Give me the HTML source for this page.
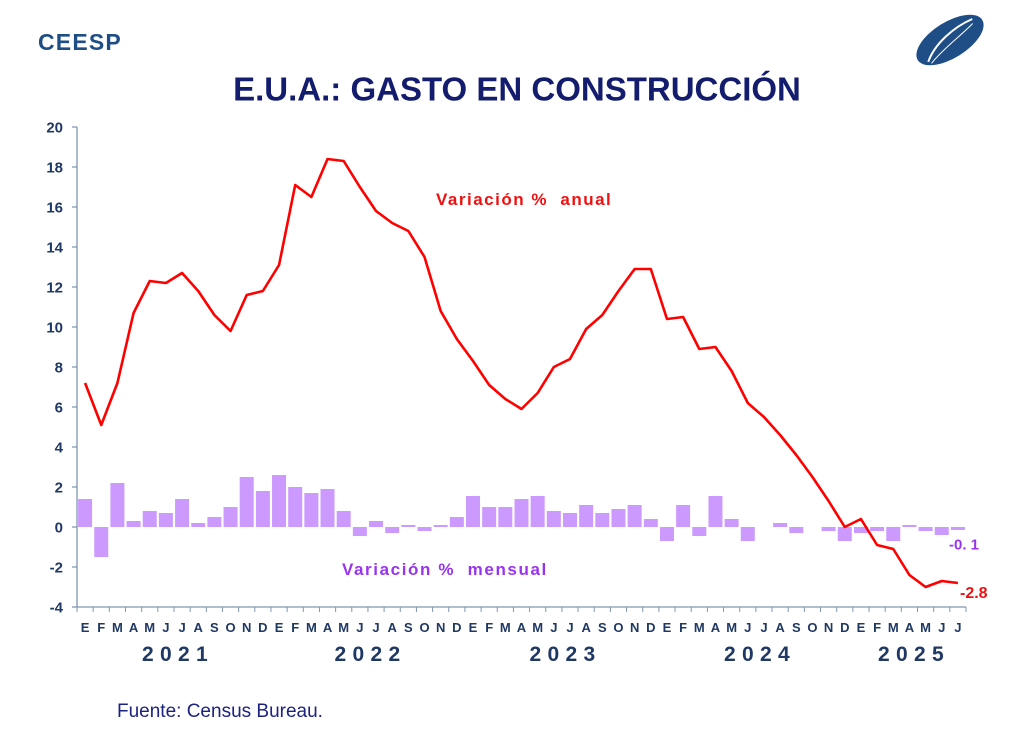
<!DOCTYPE html>
<html>
<head>
<meta charset="utf-8">
<style>
  html,body{margin:0;padding:0;background:#fff;}
  svg{display:block;}
  text{font-family:"Liberation Sans",Arial,sans-serif;}
</style>
</head>
<body>
<svg width="1024" height="730" viewBox="0 0 1024 730" xmlns="http://www.w3.org/2000/svg">
  <rect width="1024" height="730" fill="#fff"/>

  <text x="38" y="50" font-size="23" font-weight="bold" fill="#1f4e87" letter-spacing="1.2">CEESP</text>

  <g transform="translate(950,40) rotate(-32)">
    <ellipse cx="0" cy="0" rx="38" ry="18" fill="#1f4e87"/>
    <path d="M-30 7 C -15 -5, 10 -9, 30 -6" stroke="#fff" stroke-width="2" fill="none"/>
    <path d="M-28 10 C -12 4, 12 2, 28 -2" stroke="#fff" stroke-width="1" fill="none"/>
  </g>

  <text x="517" y="100.5" font-size="33" font-weight="bold" fill="#141c6e" text-anchor="middle">E.U.A.: GASTO EN CONSTRUCCIÓN</text>

  <g fill="#cc99ff">
    <rect x="78.08" y="499" width="14" height="28"/>
    <rect x="94.25" y="527" width="14" height="30"/>
    <rect x="110.41" y="483" width="14" height="44"/>
    <rect x="126.57" y="521" width="14" height="6"/>
    <rect x="142.73" y="511" width="14" height="16"/>
    <rect x="158.90" y="513" width="14" height="14"/>
    <rect x="175.06" y="499" width="14" height="28"/>
    <rect x="191.23" y="523" width="14" height="4"/>
    <rect x="207.39" y="517" width="14" height="10"/>
    <rect x="223.55" y="507" width="14" height="20"/>
    <rect x="239.72" y="477" width="14" height="50"/>
    <rect x="255.88" y="491" width="14" height="36"/>
    <rect x="272.04" y="475" width="14" height="52"/>
    <rect x="288.21" y="487" width="14" height="40"/>
    <rect x="304.37" y="493" width="14" height="34"/>
    <rect x="320.53" y="489" width="14" height="38"/>
    <rect x="336.70" y="511" width="14" height="16"/>
    <rect x="352.86" y="527" width="14" height="9"/>
    <rect x="369.03" y="521" width="14" height="6"/>
    <rect x="385.19" y="527" width="14" height="6"/>
    <rect x="401.35" y="525" width="14" height="2"/>
    <rect x="417.52" y="527" width="14" height="4"/>
    <rect x="433.68" y="525" width="14" height="2"/>
    <rect x="449.84" y="517" width="14" height="10"/>
    <rect x="466.01" y="496" width="14" height="31"/>
    <rect x="482.17" y="507" width="14" height="20"/>
    <rect x="498.33" y="507" width="14" height="20"/>
    <rect x="514.50" y="499" width="14" height="28"/>
    <rect x="530.66" y="496" width="14" height="31"/>
    <rect x="546.82" y="511" width="14" height="16"/>
    <rect x="562.99" y="513" width="14" height="14"/>
    <rect x="579.15" y="505" width="14" height="22"/>
    <rect x="595.32" y="513" width="14" height="14"/>
    <rect x="611.48" y="509" width="14" height="18"/>
    <rect x="627.64" y="505" width="14" height="22"/>
    <rect x="643.81" y="519" width="14" height="8"/>
    <rect x="659.97" y="527" width="14" height="14"/>
    <rect x="676.13" y="505" width="14" height="22"/>
    <rect x="692.30" y="527" width="14" height="9"/>
    <rect x="708.46" y="496" width="14" height="31"/>
    <rect x="724.62" y="519" width="14" height="8"/>
    <rect x="740.79" y="527" width="14" height="14"/>
    <rect x="773.12" y="523" width="14" height="4"/>
    <rect x="789.28" y="527" width="14" height="6"/>
    <rect x="821.61" y="527" width="14" height="4"/>
    <rect x="837.77" y="527" width="14" height="14"/>
    <rect x="853.93" y="527" width="14" height="6"/>
    <rect x="870.10" y="527" width="14" height="4"/>
    <rect x="886.26" y="527" width="14" height="14"/>
    <rect x="902.42" y="525" width="14" height="2"/>
    <rect x="918.59" y="527" width="14" height="4"/>
    <rect x="934.75" y="527" width="14" height="8"/>
    <rect x="950.91" y="527" width="14" height="3"/>
  </g>

  <g stroke="#7f96b2" stroke-width="1.3" fill="none">
    <line x1="77" y1="127" x2="77" y2="607"/>
    <line x1="77" y1="607" x2="966" y2="607"/>
    <path d="M72 127h5M72 167h5M72 207h5M72 247h5M72 287h5M72 327h5M72 367h5M72 407h5M72 447h5M72 487h5M72 527h5M72 567h5M72 607h5"/>
  </g>
  <g stroke="#7f96b2" stroke-width="1">
    <path d="M77 607v5M93.16 607v5M109.33 607v5M125.49 607v5M141.65 607v5M157.82 607v5M173.98 607v5M190.15 607v5M206.31 607v5M222.47 607v5M238.64 607v5M254.80 607v5M270.96 607v5M287.13 607v5M303.29 607v5M319.45 607v5M335.62 607v5M351.78 607v5M367.95 607v5M384.11 607v5M400.27 607v5M416.44 607v5M432.60 607v5M448.76 607v5M464.93 607v5M481.09 607v5M497.25 607v5M513.42 607v5M529.58 607v5M545.75 607v5M561.91 607v5M578.07 607v5M594.24 607v5M610.40 607v5M626.56 607v5M642.73 607v5M658.89 607v5M675.05 607v5M691.22 607v5M707.38 607v5M723.55 607v5M739.71 607v5M755.87 607v5M772.04 607v5M788.20 607v5M804.36 607v5M820.53 607v5M836.69 607v5M852.85 607v5M869.02 607v5M885.18 607v5M901.35 607v5M917.51 607v5M933.67 607v5M949.84 607v5M966 607v5"/>
  </g>

  <g font-size="15" font-weight="bold" fill="#1f3864" text-anchor="end">
    <text x="63" y="132.3">20</text>
    <text x="63" y="172.3">18</text>
    <text x="63" y="212.3">16</text>
    <text x="63" y="252.3">14</text>
    <text x="63" y="292.3">12</text>
    <text x="63" y="332.3">10</text>
    <text x="63" y="372.3">8</text>
    <text x="63" y="412.3">6</text>
    <text x="63" y="452.3">4</text>
    <text x="63" y="492.3">2</text>
    <text x="63" y="532.3">0</text>
    <text x="63" y="572.3">-2</text>
    <text x="63" y="612.3">-4</text>
  </g>

  <polyline fill="none" stroke="#ff0000" stroke-width="2.6" stroke-linejoin="round" points="85.08,383 101.25,425 117.41,383 133.57,313 149.73,281 165.90,283 182.06,273 198.23,291 214.39,315 230.55,331 246.72,295 262.88,291 279.04,265 295.21,185 311.37,197 327.53,159 343.70,161 359.86,187 376.03,211 392.19,223 408.35,231 424.52,257 440.68,311 456.84,339 473.01,361 489.17,385 505.33,399 521.50,409 537.66,393 553.82,367 569.99,359 586.15,329 602.32,315 618.48,291 634.64,269 650.81,269 666.97,319 683.13,317 699.30,349 715.46,347 731.62,371 747.79,403 763.95,417 780.12,435 796.28,455 812.44,477 828.61,501 844.77,527 860.93,519 877.10,545 893.26,549 909.42,575 925.59,587 941.75,581 957.91,583"/>

  <text x="436" y="205" font-size="17" font-weight="bold" fill="#ee1111" letter-spacing="1.5" style="white-space:pre">Variación %  anual</text>
  <text x="342" y="575" font-size="17" font-weight="bold" fill="#9933ee" letter-spacing="1.6" style="white-space:pre">Variación %  mensual</text>
  <text x="949" y="549.5" font-size="15" font-weight="bold" fill="#9933ee" style="white-space:pre">-0. 1</text>
  <text x="960" y="598" font-size="16" font-weight="bold" fill="#ee1111">-2.8</text>

  <g font-size="13" font-weight="bold" fill="#1f3864" text-anchor="middle">
    <text x="85.08" y="632">E</text><text x="101.25" y="632">F</text><text x="117.41" y="632">M</text><text x="133.57" y="632">A</text><text x="149.73" y="632">M</text><text x="165.90" y="632">J</text><text x="182.06" y="632">J</text><text x="198.23" y="632">A</text><text x="214.39" y="632">S</text><text x="230.55" y="632">O</text><text x="246.72" y="632">N</text><text x="262.88" y="632">D</text>
    <text x="279.04" y="632">E</text><text x="295.21" y="632">F</text><text x="311.37" y="632">M</text><text x="327.53" y="632">A</text><text x="343.70" y="632">M</text><text x="359.86" y="632">J</text><text x="376.03" y="632">J</text><text x="392.19" y="632">A</text><text x="408.35" y="632">S</text><text x="424.52" y="632">O</text><text x="440.68" y="632">N</text><text x="456.84" y="632">D</text>
    <text x="473.01" y="632">E</text><text x="489.17" y="632">F</text><text x="505.33" y="632">M</text><text x="521.50" y="632">A</text><text x="537.66" y="632">M</text><text x="553.82" y="632">J</text><text x="569.99" y="632">J</text><text x="586.15" y="632">A</text><text x="602.32" y="632">S</text><text x="618.48" y="632">O</text><text x="634.64" y="632">N</text><text x="650.81" y="632">D</text>
    <text x="666.97" y="632">E</text><text x="683.13" y="632">F</text><text x="699.30" y="632">M</text><text x="715.46" y="632">A</text><text x="731.62" y="632">M</text><text x="747.79" y="632">J</text><text x="763.95" y="632">J</text><text x="780.12" y="632">A</text><text x="796.28" y="632">S</text><text x="812.44" y="632">O</text><text x="828.61" y="632">N</text><text x="844.77" y="632">D</text>
    <text x="860.93" y="632">E</text><text x="877.10" y="632">F</text><text x="893.26" y="632">M</text><text x="909.42" y="632">A</text><text x="925.59" y="632">M</text><text x="941.75" y="632">J</text><text x="957.91" y="632">J</text>
  </g>

  <g font-size="21" font-weight="bold" fill="#1f3864" letter-spacing="6.3" text-anchor="middle">
    <text x="178" y="661">2021</text>
    <text x="370.5" y="661">2022</text>
    <text x="565.5" y="661">2023</text>
    <text x="760" y="661">2024</text>
    <text x="914" y="661">2025</text>
  </g>

  <text x="117" y="717" font-size="19" fill="#1c2280">Fuente: Census Bureau.</text>
</svg>
</body>
</html>
